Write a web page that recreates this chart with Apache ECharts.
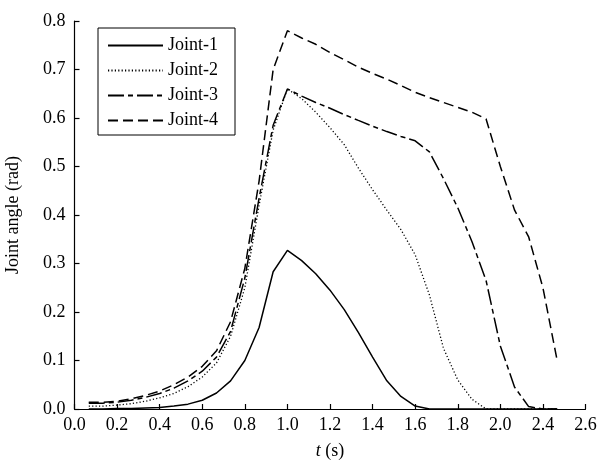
<!DOCTYPE html>
<html>
<head>
<meta charset="utf-8">
<script src="https://cdn.jsdelivr.net/npm/echarts@6/dist/echarts.min.js"></script>
<style>html,body{margin:0;padding:0;background:#fff}#c{width:598px;height:463px}</style>
</head>
<body>
<div id="c"></div>
<script>
const timeS = [0.067,0.133,0.200,0.267,0.333,0.400,0.467,0.533,0.600,0.667,0.733,0.800,0.867,0.933,1.000,1.067,1.133,1.200,1.267,1.333,1.400,1.467,1.533,1.600,1.667,1.733,1.800,1.867,1.933,2.000,2.067,2.133,2.200,2.267];
const joint1 = [0.000,0.000,0.001,0.001,0.002,0.003,0.006,0.010,0.018,0.033,0.058,0.100,0.168,0.283,0.327,0.306,0.279,0.245,0.205,0.158,0.107,0.058,0.026,0.006,0.000,0.000,0.000,0.000,0.000,0.000,0.000,0.000,0.000,0.000];
const joint2 = [0.006,0.006,0.008,0.011,0.016,0.023,0.032,0.046,0.066,0.095,0.150,0.250,0.420,0.575,0.660,0.640,0.612,0.580,0.545,0.497,0.452,0.410,0.370,0.318,0.235,0.125,0.060,0.020,0.000,0.000,0.000,0.000,0.000,0.000];
const joint3 = [0.012,0.012,0.014,0.018,0.024,0.032,0.043,0.058,0.078,0.107,0.160,0.270,0.435,0.585,0.660,0.645,0.632,0.620,0.607,0.595,0.583,0.572,0.562,0.553,0.530,0.475,0.415,0.345,0.265,0.130,0.045,0.005,0.000,0.000];
const joint4 = [0.014,0.014,0.016,0.021,0.028,0.037,0.050,0.066,0.088,0.120,0.180,0.290,0.470,0.700,0.780,0.765,0.752,0.735,0.720,0.705,0.692,0.680,0.667,0.653,0.642,0.632,0.622,0.612,0.598,0.500,0.410,0.355,0.250,0.100];
const seriesNames = ['Joint-1','Joint-2','Joint-3','Joint-4'];
const xTickLabels = ['0.0','0.2','0.4','0.6','0.8','1.0','1.2','1.4','1.6','1.8','2.0','2.4','2.6'];

const FONT = '"Liberation Serif", "Times New Roman", serif';
const dashes = ['solid', [1.2, 2.2], [16, 4, 5, 4], [10, 5]];
const allData = [joint1, joint2, joint3, joint4];

const chart = echarts.init(document.getElementById('c'), null, {renderer: 'canvas'});
chart.setOption({
  animation: false,
  backgroundColor: '#fff',
  grid: {left: 74.5, right: 12.5, top: 21, bottom: 54, containLabel: false, outerBoundsMode: 'none'},
  legend: {
    orient: 'vertical', left: 98, top: 28,
    padding: [7, 17, 4, 9], itemGap: 4, itemWidth: 55, itemHeight: 14,
    borderColor: '#000', borderWidth: 1,
    itemStyle: {opacity: 0},
    textStyle: {fontFamily: FONT, fontSize: 18, color: '#000', lineHeight: 21},
    data: seriesNames.map(n => ({name: n}))
  },
  xAxis: {
    type: 'value', min: 0, max: 2.4, interval: 0.2,
    name: '{i|t} (s)', nameLocation: 'middle', nameGap: 33,
    nameTextStyle: {fontFamily: FONT, fontSize: 18, color: '#000',
      rich: {i: {fontFamily: FONT, fontSize: 18, fontStyle: 'italic', color: '#000'}}},
    axisLine: {lineStyle: {color: '#000', width: 1.2}},
    axisTick: {inside: true, length: 5, lineStyle: {color: '#000', width: 1.2}},
    axisLabel: {fontFamily: FONT, fontSize: 18, color: '#000', margin: 7,
      formatter: v => xTickLabels[Math.round(v / 0.2)] || ''},
    splitLine: {show: false}
  },
  yAxis: {
    type: 'value', min: 0, max: 0.8, interval: 0.1,
    name: 'Joint angle (rad)', nameLocation: 'middle', nameGap: 52, nameRotate: 90,
    nameTextStyle: {fontFamily: FONT, fontSize: 18, color: '#000'},
    axisLine: {show: true, lineStyle: {color: '#000', width: 1.2}},
    axisTick: {show: true, inside: true, length: 5, lineStyle: {color: '#000', width: 1.2}},
    axisLabel: {fontFamily: FONT, fontSize: 18, color: '#000', margin: 9,
      formatter: v => v.toFixed(1)},
    splitLine: {show: false}
  },
  series: seriesNames.map((n, i) => ({
    name: n, type: 'line', symbol: 'none', smooth: false,
    data: timeS.map((t, k) => [t, allData[i][k]]),
    lineStyle: {color: '#000', width: i === 1 ? 1.3 : 1.5, type: dashes[i]},
    itemStyle: {color: '#000', opacity: 0}
  }))
});
</script>
</body>
</html>
